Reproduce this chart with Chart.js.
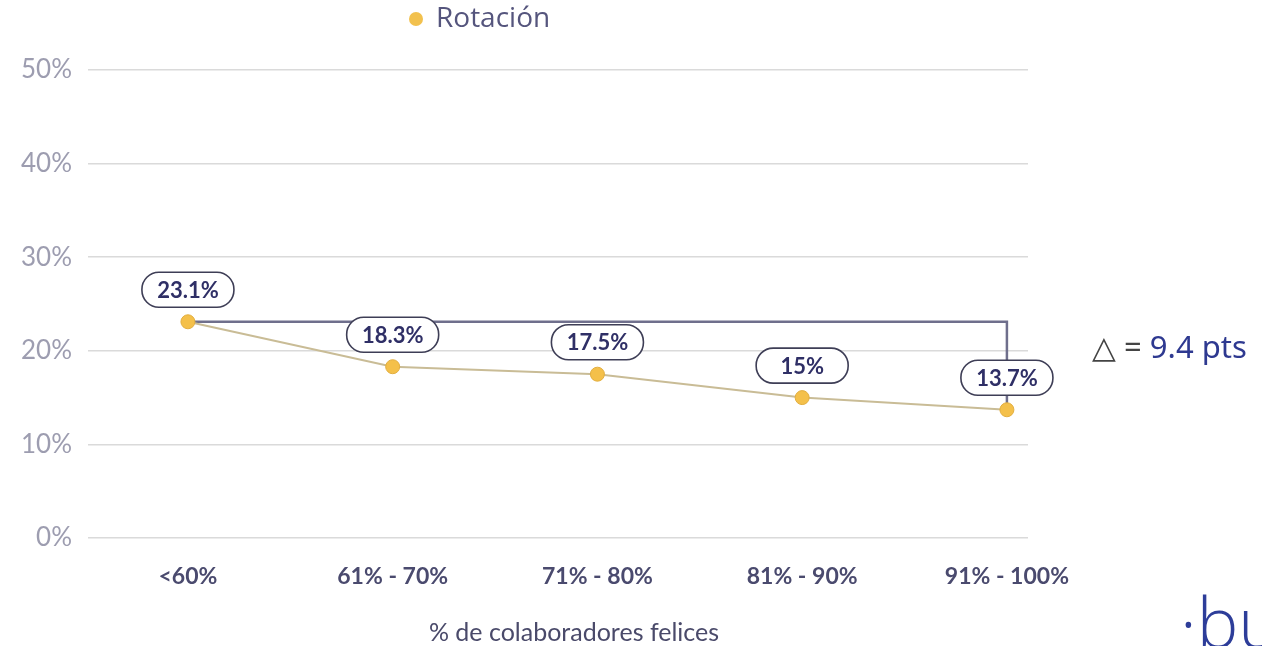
<!DOCTYPE html>
<html>
<head>
<meta charset="utf-8">
<script src="https://cdn.jsdelivr.net/npm/chart.js@4"></script>
<style>
html,body{margin:0;padding:0;background:#fff;}
#wrap{width:1262px;height:646px;position:relative;}
</style>
</head>
<body>
<div id="wrap"><canvas id="c" width="1262" height="646"></canvas></div>
<script>
const categories = ['<60%', '61% - 70%', '71% - 80%', '81% - 90%', '91% - 100%'];
const rotacion = [23.1, 18.3, 17.5, 15, 13.7];
const yTicks = [0, 10, 20, 30, 40, 50];
const seriesName = 'Rotación';
const axisTitle = '% de colaboradores felices';

const overlay = {
  id: 'overlay',
  beforeDatasetsDraw(chart) {
    const {ctx, scales: {x, y}} = chart;
    const first = 0, last = rotacion.length - 1;
    const x0 = x.getPixelForValue(first), x1 = x.getPixelForValue(last);
    const yTop = y.getPixelForValue(rotacion[first]);
    const yBot = y.getPixelForValue(rotacion[last]);
    ctx.save();
    ctx.strokeStyle = '#6f6f8c';
    ctx.lineWidth = 2.5;
    ctx.beginPath();
    ctx.moveTo(x0, yTop);
    ctx.lineTo(x1, yTop);
    ctx.lineTo(x1, yBot);
    ctx.stroke();
    ctx.restore();
  },
  afterDatasetsDraw(chart) {
    const {ctx, scales: {x, y}} = chart;
    ctx.save();
    // value labels
    ctx.font = 'bold 22px Lato';
    ctx.textAlign = 'center';
    ctx.textBaseline = 'middle';
    rotacion.forEach((v, i) => {
      const px = x.getPixelForValue(i);
      const py = y.getPixelForValue(v) - 32;
      const w = 92, h = 35, r = 17;
      ctx.beginPath();
      ctx.roundRect(px - w / 2, py - h / 2, w, h, r);
      ctx.fillStyle = '#ffffff';
      ctx.fill();
      ctx.lineWidth = 1.6;
      ctx.strokeStyle = '#3e3e56';
      ctx.stroke();
      ctx.fillStyle = '#2f2f66';
      ctx.fillText(v + '%', px, py + 1);
    });
    // x axis title
    ctx.font = '25px Lato';
    ctx.fillStyle = '#4a4a6a';
    ctx.fillText(axisTitle, 574, 633);
    // legend
    ctx.beginPath();
    ctx.arc(416, 19, 7, 0, Math.PI * 2);
    ctx.fillStyle = '#f2c14e';
    ctx.fill();
    ctx.font = '28px "Open Sans"';
    ctx.textAlign = 'left';
    ctx.fillStyle = '#55557d';
    ctx.fillText(seriesName, 436, 19);
    // delta annotation
    const delta = (rotacion[0] - rotacion[rotacion.length - 1]).toFixed(1);
    ctx.font = '31px "Noto Sans"';
    ctx.fillStyle = '#444444';
    let tx = 1092;
    ctx.fillText('△ =', tx, 349);
    tx += ctx.measureText('△ = ').width;
    ctx.fillStyle = '#2e3990';
    ctx.fillText(delta + ' pts', tx, 349);
    // logo
    ctx.font = '300 70px "Open Sans"';
    ctx.fillStyle = '#2d3d99';
    ctx.textBaseline = 'alphabetic';
    ctx.fillText('·bu', 1180, 648);
    ctx.restore();
  }
};

new Chart(document.getElementById('c'), {
  type: 'line',
  data: {
    datasets: [{
      label: seriesName,
      data: rotacion.map((v, i) => ({x: i, y: v})),
      borderColor: '#c9bc96',
      borderWidth: 2,
      pointRadius: 7,
      pointBackgroundColor: '#f4c04a',
      pointBorderColor: '#e2ae40',
      pointBorderWidth: 1,
      tension: 0
    }]
  },
  options: {
    responsive: false,
    animation: false,
    layout: {padding: {top: 70, right: 234, left: 0, bottom: 0}},
    plugins: {legend: {display: false}, tooltip: {enabled: false}},
    scales: {
      x: {
        type: 'linear',
        min: -0.488,
        max: 4.103,
        afterBuildTicks(scale) { scale.ticks = categories.map((c, i) => ({value: i})); },
        afterFit(scale) { scale.height = 108; },
        grid: {display: false, drawTicks: false},
        border: {display: false},
        ticks: {
          callback: (v) => categories[v],
          color: '#4a4a6e',
          font: {family: 'Lato', size: 23, weight: 'bold'},
          padding: 25,
          maxRotation: 0,
          autoSkip: false
        },
        title: {display: false}
      },
      y: {
        min: 0,
        max: 50,
        afterBuildTicks(scale) { scale.ticks = yTicks.map(v => ({value: v})); },
        afterFit(scale) { scale.width = 88; },
        grid: {color: '#dadada', lineWidth: 1.5, drawTicks: false},
        border: {display: false},
        ticks: {
          callback: (v) => v + '%',
          color: '#9d9db0',
          font: {family: 'Lato', size: 26},
          padding: 16
        }
      }
    }
  },
  plugins: [overlay]
});
</script>
</body>
</html>
